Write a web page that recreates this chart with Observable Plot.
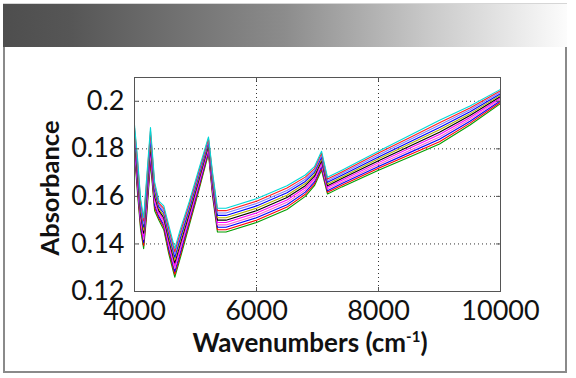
<!DOCTYPE html>
<html><head><meta charset="utf-8">
<script src="https://cdn.jsdelivr.net/npm/d3@7"></script>
<script src="https://cdn.jsdelivr.net/npm/@observablehq/plot@0.6"></script>
<style>
html,body{margin:0;padding:0;background:#fff;width:576px;height:378px;overflow:hidden;}
#header{position:absolute;left:3px;top:3px;width:564px;height:43px;background:linear-gradient(to right,#4e4e4e 0%,#565656 12%,#8c8c8c 50%,#c8c8c8 75%,#fcfcfc 100%);border-top:1px solid #d6d6d6;}
#box{position:absolute;left:3px;top:47px;width:560px;height:324px;border:2px solid #8a8a8a;border-top:none;}
#chart{position:absolute;left:0;top:0;}
</style></head>
<body>
<div id="header"></div>
<div id="box"></div>
<div id="chart"></div>
<script>
const wavenumbers = [4000,4050,4100,4150,4200,4262,4330,4400,4480,4560,4660,4750,4900,5050,5213,5280,5360,5500,6000,6500,6800,6950,7066,7164,7400,8000,8500,9000,9500,10000];

const s0  = [0.190,0.176,0.159,0.151,0.168,0.189,0.166,0.158,0.156,0.148,0.138,0.146,0.158,0.171,0.185,0.170,0.155,0.155,0.159,0.1645,0.169,0.1725,0.179,0.168,0.171,0.179,0.1855,0.192,0.198,0.205];
const s1  = [0.1888,0.1745,0.1577,0.1497,0.1664,0.1875,0.1648,0.1572,0.155,0.1468,0.1368,0.1448,0.157,0.1701,0.1843,0.169,0.154,0.154,0.158,0.1635,0.1681,0.1717,0.1782,0.1673,0.1703,0.1782,0.1846,0.191,0.1972,0.2044];
const s2  = [0.1876,0.173,0.1564,0.1484,0.1648,0.186,0.1636,0.1564,0.154,0.1456,0.1356,0.1436,0.156,0.1692,0.1836,0.168,0.153,0.153,0.157,0.1625,0.1672,0.1709,0.1774,0.1666,0.1696,0.1774,0.1837,0.190,0.1964,0.2038];
const s3  = [0.1864,0.1715,0.1551,0.1471,0.1632,0.1845,0.1624,0.1556,0.153,0.1444,0.1344,0.1424,0.155,0.1683,0.1829,0.167,0.152,0.152,0.156,0.1615,0.1663,0.1701,0.1766,0.1659,0.1689,0.1766,0.1828,0.189,0.1956,0.2032];
const s4  = [0.1852,0.170,0.1538,0.1458,0.1616,0.183,0.1612,0.1548,0.152,0.1432,0.1332,0.1412,0.154,0.1674,0.1822,0.166,0.151,0.151,0.155,0.1605,0.1654,0.1693,0.1758,0.1652,0.1682,0.1758,0.1819,0.188,0.1948,0.2026];
const s5  = [0.184,0.1685,0.1525,0.1445,0.160,0.1815,0.160,0.154,0.151,0.142,0.132,0.140,0.153,0.1665,0.1815,0.165,0.150,0.150,0.154,0.1595,0.1645,0.1685,0.175,0.1645,0.1675,0.175,0.181,0.187,0.194,0.202];
const s6  = [0.1828,0.167,0.1512,0.1432,0.1584,0.180,0.1588,0.1532,0.150,0.1408,0.1308,0.1388,0.152,0.1656,0.1808,0.164,0.149,0.149,0.153,0.1585,0.1636,0.1677,0.1742,0.1638,0.1668,0.1742,0.1801,0.186,0.1932,0.2014];
const s7  = [0.1816,0.1655,0.1499,0.1419,0.1568,0.1785,0.1576,0.1524,0.149,0.1396,0.1296,0.1376,0.151,0.1647,0.1801,0.163,0.148,0.148,0.152,0.1575,0.1627,0.1669,0.1734,0.1631,0.1661,0.1734,0.1792,0.185,0.1924,0.2008];
const s8  = [0.1804,0.164,0.1486,0.1406,0.1552,0.177,0.1564,0.1516,0.148,0.1384,0.1284,0.1364,0.150,0.1638,0.1794,0.162,0.147,0.147,0.151,0.1565,0.1618,0.1661,0.1726,0.1624,0.1654,0.1726,0.1783,0.184,0.1916,0.2002];
const s9  = [0.1792,0.1625,0.1473,0.1393,0.1536,0.1755,0.1552,0.1508,0.147,0.1372,0.1272,0.1352,0.149,0.1629,0.1787,0.161,0.146,0.146,0.150,0.1555,0.1609,0.1653,0.1718,0.1617,0.1647,0.1718,0.1774,0.183,0.1908,0.1996];
const s10 = [0.178,0.161,0.146,0.138,0.152,0.174,0.154,0.150,0.146,0.136,0.126,0.134,0.148,0.162,0.178,0.160,0.145,0.145,0.149,0.1545,0.160,0.1645,0.171,0.161,0.164,0.171,0.1765,0.182,0.190,0.199];

const seriesNames = ["s10","s9","s8","s7","s6","s5","s4","s3","s2","s1","s0"];
const seriesValues = [s10,s9,s8,s7,s6,s5,s4,s3,s2,s1,s0];
const seriesColors = ["#00a000","#ff0000","#0000ff","#ff66cc","#ff00ff","#000000","#b4b400","#0000ff","#8080ff","#ff2020","#00d8d8"];

const xTicks = [4000,6000,8000,10000];
const yTicks = [0.12,0.14,0.16,0.18,0.2];
const xGrid = [6000,8000];
const yGrid = [0.14,0.16,0.18,0.2];

const rows = [];
seriesValues.forEach((vals, i) => vals.forEach((v, j) => rows.push({w: wavenumbers[j], a: v, s: seriesNames[i]})));

const grid = {stroke: "#333", strokeOpacity: 1, strokeDasharray: "1,3", strokeWidth: 1};

const chart = Plot.plot({
  width: 576, height: 378,
  marginLeft: 134, marginRight: 76, marginTop: 77, marginBottom: 87,
  x: {domain: [4000, 10000]},
  y: {domain: [0.12, 0.21]},
  color: {domain: seriesNames, range: seriesColors},
  style: {background: "transparent", fontFamily: "Lato, sans-serif", fontSize: "27px", color: "#111", overflow: "visible"},
  marks: [
    Plot.gridX(xGrid, grid),
    Plot.gridY(yGrid, grid),
    Plot.line(rows, {x: "w", y: "a", z: "s", stroke: "s", strokeWidth: 1.1}),
    Plot.frame({stroke: "#555", strokeWidth: 1}),
    Plot.tickX(xTicks, {x: d => d, insetTop: 210, stroke: "#555"}),
    Plot.tickX(xTicks, {x: d => d, insetBottom: 210, stroke: "#555"}),
    Plot.tickY(yTicks, {y: d => d, insetRight: 362, stroke: "#555"}),
    Plot.tickY(yTicks, {y: d => d, insetLeft: 362, stroke: "#555"}),
    Plot.axisX(xTicks, {tickSize: 0, tickPadding: 9, tickFormat: "d", label: null, fontSize: 27}),
    Plot.axisY(yTicks, {tickSize: 0, tickPadding: 10, tickFormat: d => String(+d.toFixed(2)), label: null, fontSize: 27})
  ]
});

const svg = d3.select(chart);
const xl = svg.append("text")
  .attr("x", 310).attr("y", 352)
  .attr("text-anchor", "middle")
  .style("font-family", "Lato, sans-serif").style("font-weight", "bold").style("font-size", "26px").attr("fill", "#111");
xl.append("tspan").text("Wavenumbers (cm");
xl.append("tspan").attr("dy", -10).style("font-size", "15px").text("-1");
xl.append("tspan").attr("dy", 10).text(")");

svg.append("text")
  .attr("transform", "translate(59,188) rotate(-90)")
  .attr("text-anchor", "middle")
  .style("font-family", "Lato, sans-serif").style("font-weight", "bold").style("font-size", "25.5px").attr("fill", "#111")
  .text("Absorbance");

document.getElementById("chart").appendChild(chart);
</script>
</body></html>
